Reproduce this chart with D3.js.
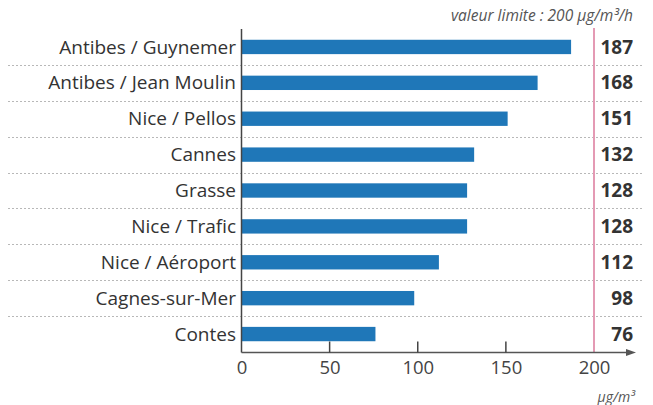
<!DOCTYPE html>
<html><head><meta charset="utf-8">
<script src="https://cdn.jsdelivr.net/npm/d3@7"></script>
<style>
html,body{margin:0;padding:0;background:#fff;}
svg{display:block;}
</style></head>
<body>
<svg id="chart" width="653" height="405"></svg>
<script>
const categories = ["Antibes / Guynemer","Antibes / Jean Moulin","Nice / Pellos","Cannes","Grasse","Nice / Trafic","Nice / Aéroport","Cagnes-sur-Mer","Contes"];
const values = [187,168,151,132,128,128,112,98,76];
const tickValues = [0,50,100,150,200];
const limitValue = 200;
const limitLabel = "valeur limite : 200 µg/m³/h";
const unitLabel = "µg/m³";

const svg = d3.select("#chart");
const font = "'Open Sans', sans-serif";
const x = d3.scaleLinear().domain([0,200]).range([241.5,594]);
const y = d3.scaleBand().domain(categories).range([29,352]).paddingInner(0.6).paddingOuter(0.3);
const axisY = 352.5;

// dotted separators
const seps = categories.slice(0,-1);
svg.append("g").selectAll("line").data(seps).join("line")
  .attr("x1",8).attr("x2",642)
  .attr("y1",d=>Math.round(y(d)+y.bandwidth()/2+y.step()/2)+0.5)
  .attr("y2",d=>Math.round(y(d)+y.bandwidth()/2+y.step()/2)+0.5)
  .attr("stroke","#b8b8b8").attr("stroke-width",1).attr("stroke-dasharray","2,2");

// bars
svg.append("g").selectAll("rect").data(values).join("rect")
  .attr("x",x(0)).attr("y",(d,i)=>y(categories[i]))
  .attr("width",d=>x(d)-x(0)).attr("height",y.bandwidth())
  .attr("fill","#1f77b8");

// limit line
svg.append("line").attr("x1",x(limitValue)).attr("x2",x(limitValue))
  .attr("y1",28).attr("y2",axisY).attr("stroke","#e49ab4").attr("stroke-width",2);

// y axis line
svg.append("line").attr("x1",x(0)).attr("x2",x(0)).attr("y1",29).attr("y2",axisY)
  .attr("stroke","#444").attr("stroke-width",1.5);

// x axis
const xAxis = d3.axisBottom(x).tickValues(tickValues).tickSize(0).tickPadding(8);
const gx = svg.append("g").attr("transform",`translate(0,${axisY})`).call(xAxis);
gx.select(".domain").remove();
gx.selectAll("text").attr("font-family",font).attr("font-size",18.5).attr("fill","#444");
gx.append("line").attr("x1",x(0)).attr("x2",628).attr("y1",0).attr("y2",0).attr("stroke","#555").attr("stroke-width",1.5);
gx.append("path").attr("d","M636,0 L626,-3.5 L626,3.5 Z").attr("fill","#555");
gx.selectAll(".tickmark").data(tickValues.filter(v=>v>0 && v<200)).join("line")
  .attr("x1",d=>x(d)).attr("x2",d=>x(d)).attr("y1",-11).attr("y2",0)
  .attr("stroke","#444").attr("stroke-width",1.5);

// category labels
svg.append("g").selectAll("text").data(categories).join("text")
  .attr("x",236).attr("y",d=>y(d)+y.bandwidth()/2)
  .attr("dy","0.35em").attr("text-anchor","end")
  .attr("font-family",font).attr("font-size",19).attr("fill","#333").text(d=>d);

// value labels
svg.append("g").selectAll("text").data(values).join("text")
  .attr("x",633).attr("y",(d,i)=>y(categories[i])+y.bandwidth()/2)
  .attr("dy","0.35em").attr("text-anchor","end")
  .attr("font-family",font).attr("font-weight","bold").attr("font-size",19).attr("fill","#333").text(d=>d);

// top limit label
svg.append("text").attr("x",633).attr("y",20.5).attr("text-anchor","end")
  .attr("font-family",font).attr("font-style","italic").attr("font-size",15.5)
  .attr("fill","#555").text(limitLabel);

// unit label
svg.append("text").attr("x",635).attr("y",402).attr("text-anchor","end")
  .attr("font-family",font).attr("font-style","italic").attr("font-size",14)
  .attr("fill","#555").text(unitLabel);
</script>
</body></html>
